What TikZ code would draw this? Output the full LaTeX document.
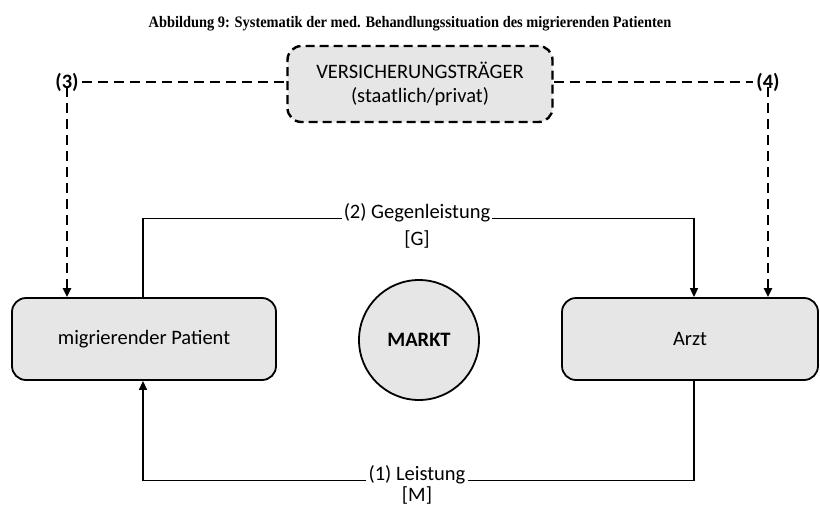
\documentclass[tikz,border=0pt]{standalone}
\usepackage{fontspec}
\setmainfont{Carlito}
\newfontfamily\titlefont[FakeStretch=0.9]{Liberation Serif}
\usetikzlibrary{arrows.meta}
\definecolor{boxgray}{HTML}{E6E6E6}
\begin{document}
\begin{tikzpicture}[x=1pt,y=-1pt,
  lbl/.style={font=\fontsize{20.5}{24}\selectfont, inner sep=0pt},
  box/.style={draw, line width=1.8pt, rounded corners=14pt, fill=boxgray,
    font=\fontsize{20.5}{24}\selectfont, inner sep=0pt},
  dbox/.style={box, dash pattern=on 9pt off 5pt, line width=2.4pt, align=center,
    font=\fontsize{20.5}{24}\selectfont},
  dline/.style={line width=2.4pt, dash pattern=on 10pt off 6pt},
  sline/.style={line width=1.5pt},
  tip/.style={-{Triangle[length=9pt,width=8pt]}}]
\useasboundingbox (0,0) rectangle (820,507);
\fill[white] (0,0) rectangle (820,507);
\node[font=\titlefont\bfseries\fontsize{16}{19}\selectfont, inner sep=0pt] (title) at (410,24)
  {Abbildung 9: Systematik der med. Behandlungssituation des migrierenden Patienten};
% boxes
\node[dbox, minimum width=265pt, minimum height=76pt] (vers) at (420,84)
  {VERSICHERUNGSTRÄGER\\(staatlich/privat)};
\node[box, minimum width=264pt, minimum height=82pt] (pat) at (144,339) {migrierender Patient};
\node[box, minimum width=256pt, minimum height=82pt] (arzt) at (690,339) {Arzt};
\node[draw, circle, line width=1.8pt, fill=boxgray, minimum size=120pt, inner sep=0pt,
  font=\bfseries\fontsize{20.5}{24}\selectfont] (markt) at (419,340) {MARKT};
% numbered ends
\node[lbl, font=\bfseries\fontsize{20.5}{24}\selectfont] (n3) at (67,82) {(3)};
\node[lbl, font=\bfseries\fontsize{20.5}{24}\selectfont] (n4) at (768,82) {(4)};
\draw[dline] (n3.east) ++(3,0) -- (vers.west |- n3.east);
\draw[dline] (vers.east |- n4.west) -- ([xshift=-3pt]n4.west);
\draw[dline, tip] ([yshift=4pt]n3.south) -- (n3.south |- pat.north);
\draw[dline, tip] ([yshift=4pt]n4.south) -- (n4.south |- arzt.north);
% flow labels
\node[lbl, inner xsep=2pt] (g1) at (417,213) {(2) Gegenleistung};
\node[lbl] (g2) at (417,239) {[G]};
\node[lbl, inner xsep=2pt] (l1) at (417,475) {(1) Leistung};
\node[lbl] (l2) at (417,495) {[M]};
\coordinate (pg) at (143,0);
\coordinate (ag) at (694,0);
\draw[sline] (pat.north -| pg) -- (pg |- g1.base) -- (g1.base west);
\draw[sline, tip] (g1.base east) -- (ag |- g1.base) -- (arzt.north -| ag);
\draw[sline] (arzt.south -| ag) -- (ag |- l1.base) -- (l1.base east);
\draw[sline, tip] (l1.base west) -- (pg |- l1.base) -- (pat.south -| pg);
\end{tikzpicture}
\end{document}
